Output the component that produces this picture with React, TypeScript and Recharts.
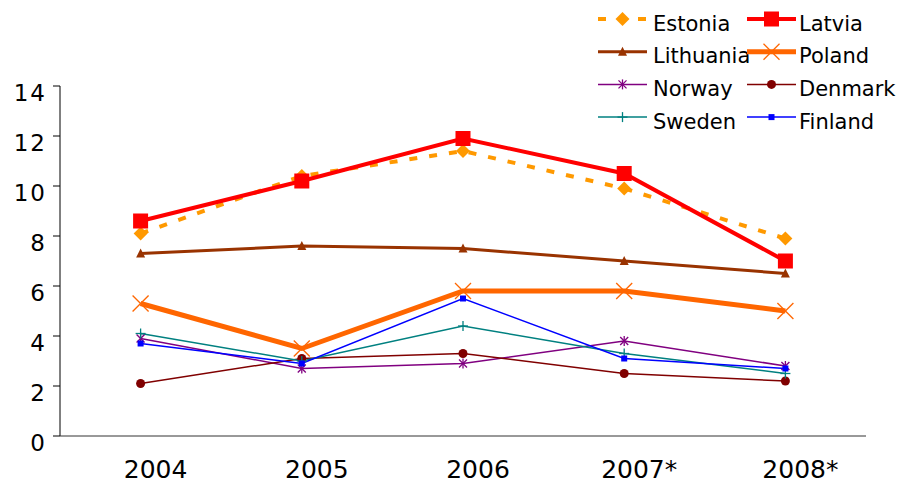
import React from 'react';
import { LineChart, Line, XAxis, YAxis } from 'recharts';

const categories = ['2004', '2005', '2006', '2007*', '2008*'];
const estonia = [8.1, 10.4, 11.4, 9.9, 7.9];
const latvia = [8.6, 10.2, 11.9, 10.5, 7.0];
const lithuania = [7.3, 7.6, 7.5, 7.0, 6.5];
const poland = [5.3, 3.5, 5.8, 5.8, 5.0];
const norway = [3.9, 2.7, 2.9, 3.8, 2.8];
const denmark = [2.1, 3.1, 3.3, 2.5, 2.2];
const sweden = [4.1, 3.0, 4.4, 3.3, 2.5];
const finland = [3.7, 2.9, 5.5, 3.1, 2.7];
const yTicks = [0, 2, 4, 6, 8, 10, 12, 14];

type Series = { key: string; values: number[]; color: string; width: number; dash?: string; marker: string };

const SERIES: Series[] = [
  { key: 'Estonia', values: estonia, color: '#FF9900', width: 4, dash: '8 12', marker: 'diamond' },
  { key: 'Latvia', values: latvia, color: '#FF0000', width: 4, marker: 'bigsquare' },
  { key: 'Lithuania', values: lithuania, color: '#993300', width: 3, marker: 'triangle' },
  { key: 'Poland', values: poland, color: '#FF6600', width: 5, marker: 'x' },
  { key: 'Norway', values: norway, color: '#800080', width: 1.5, marker: 'asterisk' },
  { key: 'Denmark', values: denmark, color: '#800000', width: 1.5, marker: 'circle' },
  { key: 'Sweden', values: sweden, color: '#008080', width: 1.5, marker: 'plus' },
  { key: 'Finland', values: finland, color: '#0000FF', width: 1.5, marker: 'smallsquare' },
];

const data = categories.map((c, i) => {
  const row: Record<string, number | string> = { x: i + 0.5, cat: c };
  SERIES.forEach((s) => {
    row[s.key] = s.values[i];
  });
  return row;
});

const FONT = '"DejaVu Sans", Verdana, sans-serif';

function Marker({ kind, color, cx, cy }: { kind: string; color: string; cx: number; cy: number }) {
  switch (kind) {
    case 'diamond':
      return <polygon points={`${cx},${cy - 7} ${cx + 7},${cy} ${cx},${cy + 7} ${cx - 7},${cy}`} fill={color} />;
    case 'bigsquare':
      return <rect x={cx - 7.5} y={cy - 7.5} width={15} height={15} fill={color} />;
    case 'triangle':
      return <polygon points={`${cx},${cy - 5} ${cx + 4.5},${cy + 4} ${cx - 4.5},${cy + 4}`} fill={color} />;
    case 'x':
      return (
        <g stroke={color} strokeWidth={1.3}>
          <line x1={cx - 8} y1={cy - 8} x2={cx + 8} y2={cy + 8} />
          <line x1={cx - 8} y1={cy + 8} x2={cx + 8} y2={cy - 8} />
        </g>
      );
    case 'asterisk':
      return (
        <g stroke={color} strokeWidth={1.3}>
          <line x1={cx - 4} y1={cy - 4} x2={cx + 4} y2={cy + 4} />
          <line x1={cx - 4} y1={cy + 4} x2={cx + 4} y2={cy - 4} />
          <line x1={cx} y1={cy - 5} x2={cx} y2={cy + 5} />
        </g>
      );
    case 'circle':
      return <circle cx={cx} cy={cy} r={4.5} fill={color} />;
    case 'plus':
      return (
        <g stroke={color} strokeWidth={1.3}>
          <line x1={cx - 5} y1={cy} x2={cx + 5} y2={cy} />
          <line x1={cx} y1={cy - 5} x2={cx} y2={cy + 5} />
        </g>
      );
    case 'smallsquare':
      return <rect x={cx - 3} y={cy - 3} width={6} height={6} fill={color} />;
    default:
      return null;
  }
}

const YTick = (props: any) => {
  const { y, payload } = props;
  return (
    <text x={47} y={y + 14.5} textAnchor="end" fontFamily={FONT} fontSize={23} letterSpacing={2} fill="#000">
      {payload.value}
    </text>
  );
};

const XLabelTick = (props: any) => {
  const { x, y, payload } = props;
  const idx = Math.round(payload.value - 0.5);
  return (
    <text x={x + 15} y={y + 34} textAnchor="middle" fontFamily={FONT} fontSize={25} fill="#000">
      {categories[idx]}
    </text>
  );
};

function LegendOverlay() {
  const colX = [598, 747];
  const textX = [653, 799];
  return (
    <svg width={901} height={140} style={{ position: 'absolute', left: 0, top: 0 }}>
      {SERIES.map((s, i) => {
        const col = i % 2;
        const row = Math.floor(i / 2);
        const y = 19 + row * 32.7;
        const x0 = colX[col];
        const x1 = x0 + 49;
        const cx = (x0 + x1) / 2;
        return (
          <g key={s.key}>
            <line x1={x0} y1={y} x2={x1} y2={y} stroke={s.color} strokeWidth={s.width} strokeDasharray={s.dash} />
            <Marker kind={s.marker} color={s.color} cx={cx} cy={y} />
            <text x={textX[col]} y={y + 11.5} fontFamily={FONT} fontSize={21} fill="#000">
              {s.key}
            </text>
          </g>
        );
      })}
    </svg>
  );
}

export default function App() {
  return (
    <div style={{ position: 'absolute', left: 0, top: 0, width: 901, height: 484, background: '#fff' }}>
      <LineChart width={901} height={484} data={data} margin={{ top: 86, right: 35, left: 0, bottom: 0 }}>
        <YAxis
          type="number"
          domain={[0, 14]}
          ticks={yTicks}
          interval={0}
          width={60}
          tickSize={7}
          axisLine={{ stroke: '#000', strokeWidth: 1 }}
          tickLine={{ stroke: '#000', strokeWidth: 1 }}
          tick={<YTick />}
        />
        <XAxis
          xAxisId={0}
          type="number"
          dataKey="x"
          domain={[0, 5]}
          ticks={[0, 1, 2, 3, 4, 5]}
          interval={0}
          height={8}
          tickSize={6}
          tick={false}
          axisLine={{ stroke: '#333', strokeWidth: 1 }}
          tickLine={{ stroke: '#333', strokeWidth: 1 }}
        />
        <XAxis
          xAxisId={1}
          type="number"
          dataKey="x"
          domain={[0, 5]}
          ticks={categories.map((_, i) => i + 0.5)}
          interval={0}
          height={40}
          tickSize={0}
          tickMargin={0}
          axisLine={false}
          tickLine={false}
          tick={<XLabelTick />}
        />
        {SERIES.map((s) => (
          <Line
            key={s.key}
            xAxisId={0}
            type="linear"
            dataKey={s.key}
            stroke={s.color}
            strokeWidth={s.width}
            strokeDasharray={s.dash}
            isAnimationActive={false}
            activeDot={false}
            dot={(p: any) => (
              <Marker key={`${s.key}-${p.index}`} kind={s.marker} color={s.color} cx={p.cx} cy={p.cy} />
            )}
          />
        ))}
      </LineChart>
      <LegendOverlay />
    </div>
  );
}
